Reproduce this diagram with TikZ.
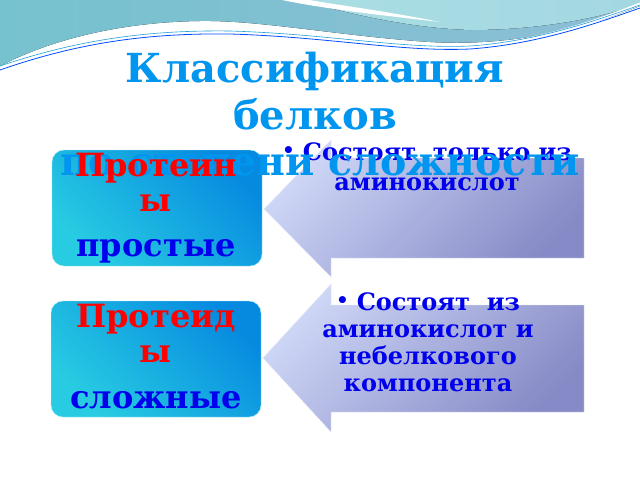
\documentclass[tikz,border=0pt]{standalone}
\usepackage{fontspec}
\setmainfont{DejaVu Serif}
\usetikzlibrary{positioning}

\definecolor{titleBlue}{RGB}{0,150,240}
\definecolor{boxCyan}{RGB}{40,204,226}
\definecolor{boxBlue}{RGB}{6,138,224}
\definecolor{arrowLight}{RGB}{206,214,246}
\definecolor{arrowDark}{RGB}{134,138,198}
\definecolor{waveTeal}{RGB}{118,194,206}
\definecolor{waveDark}{RGB}{140,190,214}
\definecolor{waveLight}{RGB}{170,222,228}
\definecolor{textBlue}{RGB}{0,0,236}

\newcommand{\noteDot}{\raisebox{3pt}{\fontsize{20}{20}\selectfont •}\hspace{8pt}}

\begin{document}
\begin{tikzpicture}[x=1pt, y=-1pt]
      \tikzstyle{classBox} = [rectangle, rounded corners=12pt, minimum width=210pt, minimum height=116pt, draw=white!60!boxCyan, bottom color=boxCyan, top color=boxBlue, shading angle=-45]
      \tikzstyle{arrowShape} = [draw=white!50!arrowLight, bottom color=arrowDark, top color=arrowLight, shading angle=45]
      \tikzstyle{titleText} = [font=\bfseries\fontsize{40}{47}\selectfont, text=titleBlue, inner sep=0pt]
      \tikzstyle{kindText} = [font=\bfseries\fontsize{32}{35}\selectfont, align=center, inner sep=0pt]
      \tikzstyle{noteText} = [font=\bfseries\fontsize{24}{27}\selectfont, text=textBlue, align=center, inner sep=0pt]

      \useasboundingbox (0,0) rectangle (640,480);
      \fill[white] (0,0) rectangle (640,480);

      % Ondas de arriba
      \fill[left color=waveTeal, right color=waveDark] (0,0) -- (640,0) -- (640,6)
            .. controls (570,34) and (500,46) .. (430,42)
            .. controls (340,36) and (260,20) .. (200,21)
            .. controls (120,22) and (50,40) .. (0,66) -- cycle;
      \fill[left color=waveLight, right color=waveLight!80!waveDark] (300,0) -- (640,0) -- (640,4)
            .. controls (600,18) and (540,30) .. (470,30)
            .. controls (410,28) and (350,14) .. (300,0) -- cycle;
      \fill[white] (282,0) .. controls (320,8) and (370,14) .. (440,22)
            .. controls (380,10) and (330,4) .. (310,0) -- cycle;
      \draw[white, line width=3pt] (0,68) .. controls (80,42) and (150,30) .. (230,31)
            .. controls (330,34) and (400,50) .. (470,47) .. controls (540,42) and (600,20) .. (640,4);
      \draw[blue!70!cyan, line width=0.8pt] (0,70) .. controls (80,42) and (150,33) .. (230,34)
            .. controls (330,37) and (400,52) .. (470,49) .. controls (540,44) and (600,22) .. (640,8);
      \draw[cyan!70!teal, line width=0.6pt] (0,66) .. controls (80,39) and (150,30) .. (230,31)
            .. controls (330,34) and (400,49) .. (470,46) .. controls (540,41) and (600,19) .. (640,5);

      % Flechas
      \path[arrowShape] (264,209) -- (331,140) -- (331,158) -- (584,158) -- (584,258) -- (331,258) -- (331,277) -- cycle;
      \path[arrowShape] (263,358) -- (331,284) -- (331,305) -- (584,305) -- (584,412) -- (331,412) -- (331,432) -- cycle;

      \node[noteText, anchor=north, font=\bfseries\fontsize{24}{30}\selectfont] (onlyAmino) at (427,142) {\noteDot Состоят\ \ только из\\аминокислот};
      \node[noteText, anchor=north] (withPart) at (428,292) {\noteDot Состоят\ \ из\\аминокислот и\\небелкового\\компонента};

      % Cajas
      \node[classBox] (simpleBox) at (157,208) {};
      \node[classBox] (complexBox) at (156,359) {};

      % Titulo
      \node[titleText, anchor=base] (title1) at (315,82) {Классификация};
      \node[titleText, anchor=base] (title2) at (315,129) {белков};
      \node[titleText, anchor=base, font=\bfseries\fontsize{39.5}{47}\selectfont] (title3) at (320,175) {по степени сложности};

      \node[kindText, text=red, anchor=north] (simpleName) at (156,153) {Протеин\\ы};
      \node[kindText, text=textBlue, anchor=base] (simpleKind) at (156,256) {простые};
      \node[kindText, text=red, anchor=north] (complexName) at (156,304) {Протеид\\ы};
      \node[kindText, text=textBlue, anchor=base] (complexKind) at (156,408) {сложные};
\end{tikzpicture}
\end{document}
